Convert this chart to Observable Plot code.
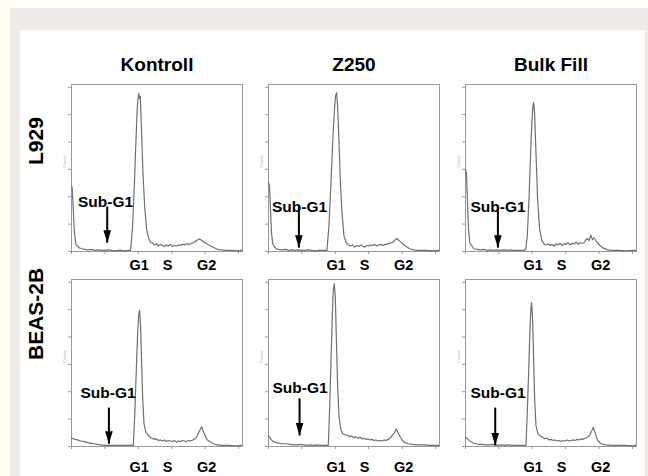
<!DOCTYPE html>
<html><head><meta charset="utf-8">
<script src="https://cdn.jsdelivr.net/npm/d3@7"></script>
<script src="https://cdn.jsdelivr.net/npm/@observablehq/plot@0.6"></script>
<style>
html,body{margin:0;padding:0;background:#fffef5;width:648px;height:476px;overflow:hidden}
#gray{position:absolute;left:10px;top:8px;width:638px;height:468px;background:#eeebe9}
#white{position:absolute;left:20px;top:30px;width:625px;height:446px;background:#fff}
#chart{position:absolute;left:0;top:0}
</style></head><body>
<div id="gray"></div><div id="white"></div><div id="chart"></div>
<script>
const columns = ["Kontroll", "Z250", "Bulk Fill"];
const rows = ["L929", "BEAS-2B"];
const xTicks = [0, 200, 400, 600, 800, 1000];
const yTicks = [0, 50, 100, 150, 200, 250, 300];
const phaseLabels = ["G1", "S", "G2"];
const phaseChannels = [405, 575, 810];

// [DNA channel, count]
const hist_L929_Kontroll = [[0,120],[4,116],[10,82],[16,40],[26,13],[44,7],[60,5],[80,4],[100,3],[120,4],[140,2],[160,3],[180,2],[200,2],[220,3],[240,2],[260,1],[280,2],[300,2],[320,1],[340,2],[354,2],[366,47],[376,119],[386,203],[394,264],[402,289],[408,279],[412,283],[420,216],[428,143],[438,83],[450,40],[464,22],[476,16],[484,16],[496,12],[508,14],[520,10],[532,13],[544,11],[556,9],[568,12],[580,10],[592,13],[604,9],[616,11],[628,10],[640,12],[652,11],[664,13],[676,12],[688,14],[700,13],[714,14],[734,17],[748,20],[764,23],[778,21],[794,17],[810,14],[834,10],[854,7],[874,4],[900,3],[930,2],[960,2],[990,1],[1020,2]];
const hist_L929_Z250 = [[0,126],[6,120],[12,77],[18,34],[26,13],[46,5],[60,4],[80,3],[100,4],[120,2],[140,3],[160,2],[180,3],[200,2],[220,2],[240,3],[260,2],[280,1],[300,2],[320,2],[340,2],[350,2],[362,47],[374,125],[386,210],[396,264],[402,285],[408,290],[414,264],[422,203],[430,131],[440,71],[452,28],[466,16],[480,12],[492,10],[504,12],[516,8],[528,11],[540,9],[552,12],[564,10],[576,8],[588,11],[600,10],[612,12],[624,11],[636,13],[648,10],[660,12],[672,13],[684,11],[696,13],[706,13],[726,15],[746,17],[766,24],[776,22],[786,19],[800,15],[816,11],[830,8],[846,5],[870,3],[900,2],[940,2],[980,1],[1020,2]];
const hist_L929_BulkFill = [[0,150],[6,143],[12,89],[18,40],[26,16],[50,5],[70,4],[90,3],[110,4],[130,2],[150,3],[170,2],[190,3],[210,2],[230,3],[250,2],[270,3],[290,2],[310,2],[330,2],[350,2],[360,3],[370,28],[380,95],[390,180],[398,240],[404,267],[408,272],[414,252],[422,180],[432,95],[444,40],[458,19],[470,14],[482,12],[494,14],[506,11],[518,13],[530,10],[542,14],[554,12],[566,15],[578,11],[590,14],[602,13],[614,16],[626,12],[638,15],[650,14],[662,17],[674,13],[686,16],[698,15],[710,16],[720,21],[730,24],[740,20],[750,30],[760,22],[770,25],[780,20],[790,16],[805,11],[820,7],[850,3],[880,2],[920,2],[960,1],[1000,2],[1020,2]];
const hist_BEAS_Kontroll = [[0,16],[4,15],[20,13],[36,12],[56,10],[76,9],[96,7],[114,6],[134,5],[154,4],[174,3],[194,2],[214,2],[234,2],[254,2],[274,2],[294,2],[314,2],[334,2],[354,2],[370,2],[380,67],[388,139],[396,206],[402,239],[408,249],[414,218],[420,151],[426,91],[434,42],[444,27],[458,21],[470,17],[484,15],[496,13],[508,14],[520,11],[532,12],[544,10],[556,12],[568,9],[580,11],[592,10],[604,9],[616,11],[628,8],[640,10],[652,9],[664,11],[676,10],[688,9],[700,11],[712,10],[728,12],[744,15],[754,20],[764,27],[772,32],[780,36],[788,29],[794,24],[804,17],[814,12],[828,9],[844,6],[860,4],[874,3],[900,2],[940,2],[980,1],[1020,2]];
const hist_BEAS_Z250 = [[0,20],[6,17],[20,11],[40,8],[60,6],[80,5],[106,5],[130,4],[150,3],[170,3],[190,4],[210,3],[230,2],[250,3],[270,2],[290,3],[310,2],[330,2],[350,2],[358,2],[366,68],[374,153],[382,238],[388,286],[394,297],[400,274],[406,202],[414,111],[422,56],[432,32],[446,23],[462,21],[476,20],[488,18],[500,19],[512,16],[524,18],[536,15],[548,17],[560,14],[572,15],[584,13],[596,14],[608,12],[620,13],[632,11],[644,12],[656,10],[668,11],[680,10],[692,12],[704,11],[716,13],[728,15],[740,20],[756,26],[764,32],[772,28],[780,23],[790,17],[802,11],[818,7],[836,5],[860,4],[890,3],[930,3],[970,2],[1020,2]];
const hist_BEAS_BulkFill = [[0,17],[12,14],[30,9],[50,6],[62,5],[80,4],[100,4],[120,3],[140,3],[160,4],[180,3],[200,2],[220,3],[240,2],[260,3],[280,2],[300,2],[320,2],[340,2],[362,2],[370,62],[378,135],[386,214],[392,253],[396,263],[402,232],[408,159],[414,87],[422,38],[434,23],[448,19],[462,17],[476,14],[488,15],[500,12],[512,13],[524,11],[536,12],[548,10],[560,11],[572,9],[584,11],[596,10],[608,12],[620,10],[632,11],[644,12],[656,11],[668,13],[680,12],[692,14],[704,13],[716,15],[732,17],[744,21],[752,26],[760,31],[766,35],[772,29],[778,23],[792,11],[812,5],[840,3],[880,2],[920,2],[960,2],[1000,1],[1020,2]];

// Sub-G1 annotation per panel (row-major order)
const subG1TextX = [204, 186, 195, 219, 189, 195];
const subG1TextY = [91, 81, 81, 98, 107, 98];
const arrowX = [214, 182, 194, 224, 186, 178];
const arrowTop = [82, 82, 82, 71, 88, 71];
const arrowTip = [16, 7, 7, 5, 20, 2];

const panels = rows.flatMap(r => columns.map(c => ({row: r, col: c})));
const hists = [hist_L929_Kontroll, hist_L929_Z250, hist_L929_BulkFill, hist_BEAS_Kontroll, hist_BEAS_Z250, hist_BEAS_BulkFill];
const lineData = panels.flatMap((p, i) => hists[i].map(([ch, count]) => ({...p, ch, count})));
const annot = panels.map((p, i) => ({...p, tx: subG1TextX[i], ty: subG1TextY[i], ax: arrowX[i], top: arrowTop[i], tip: arrowTip[i]}));
const phaseData = panels.flatMap(p => phaseLabels.map((t, j) => ({...p, label: t, ch: phaseChannels[j]})));

const arrowHead = {draw(ctx) { ctx.moveTo(0, 0); ctx.lineTo(-3.8, -12.5); ctx.lineTo(3.8, -12.5); ctx.closePath(); }};
const F = {fx: "col", fy: "row"};

const chart = Plot.plot({
  width: 648, height: 476,
  marginLeft: 71, marginRight: 12, marginTop: 84, marginBottom: 30,
  style: {fontFamily: "'Liberation Sans', Arial, sans-serif", background: "transparent", overflow: "visible"},
  fx: {domain: columns, padding: 0.132, axis: null},
  fy: {domain: rows, padding: 0.1436, axis: null},
  x: {domain: [0, 1024]},
  y: {domain: [0, 305]},
  marks: [
    Plot.frame({stroke: "#999"}),
    Plot.axisY({ticks: yTicks, tickSize: 3, tickFormat: () => "", facetAnchor: null, stroke: "#999", label: null}),
    Plot.axisX({ticks: xTicks, tickSize: 3, tickFormat: () => "", facetAnchor: null, stroke: "#999", label: null}),
    Plot.text(panels, {...F, text: () => "Counts", frameAnchor: "left", dx: -7, rotate: -90, fontSize: 4, fill: "#aaa"}),
    Plot.line(lineData, {...F, x: "ch", y: "count", stroke: "#707070", strokeWidth: 1.2}),
    Plot.link(annot, {...F, x1: "ax", x2: "ax", y1: "top", y2: "tip", stroke: "#000", strokeWidth: 2}),
    Plot.dot(annot, {...F, x: "ax", y: "tip", symbol: arrowHead, fill: "#000", stroke: "none"}),
    Plot.text(annot, {...F, x: "tx", y: "ty", text: () => "Sub-G1", fontSize: 15.5, fontWeight: "bold", fill: "#000"}),
    Plot.text(phaseData.filter(d => d.row === rows[0]), {...F, x: "ch", y: () => 0, text: "label", dy: 14, fontSize: 14.5, fontWeight: "bold", fill: "#000"}),
    Plot.text(phaseData.filter(d => d.row === rows[1]), {...F, x: "ch", y: () => 0, text: "label", dy: 21, fontSize: 14.5, fontWeight: "bold", fill: "#000"}),
    Plot.text(columns.map(c => ({col: c, row: rows[0]})), {...F, text: "col", frameAnchor: "top", dy: -27, fontSize: 19, fontWeight: "bold", fill: "#000"}),
    Plot.text(rows.map(r => ({col: columns[0], row: r})), {...F, text: "row", frameAnchor: "left", dx: -35, dy: -3, rotate: -90, fontSize: 21, fontWeight: "bold", fill: "#000"})
  ]
});
document.getElementById("chart").appendChild(chart);
</script>
</body></html>
